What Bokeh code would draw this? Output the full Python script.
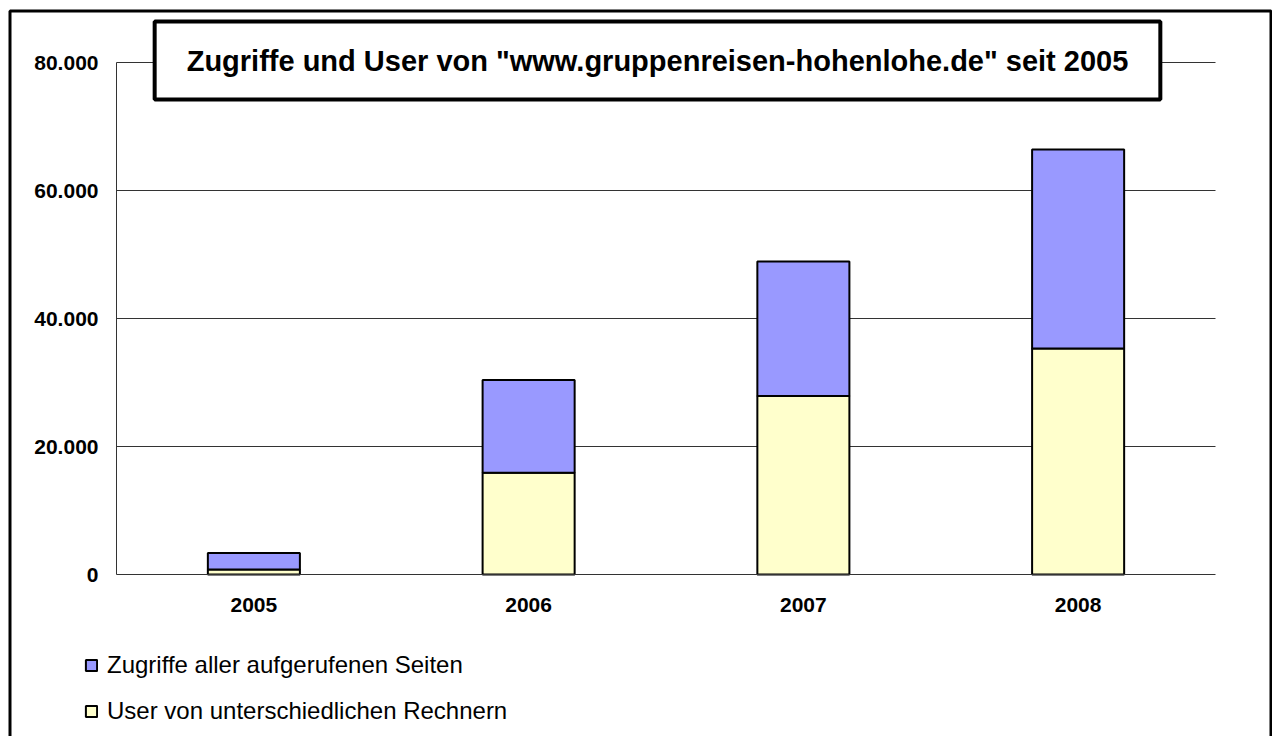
from bokeh.plotting import figure
from bokeh.models import (ColumnDataSource, Range1d, FixedTicker,
                          CustomJSTickFormatter, Label, Legend, LegendItem, BoxAnnotation)
from bokeh.embed import file_html
from bokeh.resources import INLINE

# ---- data ----
years = ["2005", "2006", "2007", "2008"]
users = [800, 15900, 27900, 35300]          # User von unterschiedlichen Rechnern
zugriffe = [2550, 14500, 21000, 31100]      # Zugriffe aller aufgerufenen Seiten (stacked segment)
y_ticks = [0, 20000, 40000, 60000, 80000]
title_text = 'Zugriffe und User von "www.gruppenreisen-hohenlohe.de" seit 2005'
label_users = "User von unterschiedlichen Rechnern"
label_zugriffe = "Zugriffe aller aufgerufenen Seiten"

YELLOW = "#FFFFCC"
BLUE = "#9999FF"
FONT = "Liberation Sans"

# ---- layout constants (pixels) ----
W, H = 1272, 736
AX_LEFT, AX_RIGHT = 116, 1215      # plot area horizontally
AX_TOP, AX_BOTTOM = 62, 574        # y of top value / zero line
Y_MAX = y_ticks[-1]

n = len(years)
xs = list(range(n))
cat_px = (AX_RIGHT - AX_LEFT) / n
x_start = -0.5 - AX_LEFT / cat_px
x_end = x_start + W / cat_px
px_per_unit = (AX_BOTTOM - AX_TOP) / Y_MAX
y_start = -(H - AX_BOTTOM) / px_per_unit
y_end = Y_MAX + AX_TOP / px_per_unit

src = ColumnDataSource(dict(x=xs, year=years, users=users, zugriffe=zugriffe))

p = figure(x_range=Range1d(x_start, x_end), y_range=Range1d(y_start, y_end),
           width=W, height=H, output_backend="svg", toolbar_location=None,
           min_border=0, min_border_left=0, min_border_right=0,
           min_border_top=0, min_border_bottom=0)
p.title.visible = False
p.outline_line_color = None
p.background_fill_color = "white"
p.border_fill_color = "white"
p.grid.visible = False

# horizontal gridlines over the plot area
grid_y = [t for t in y_ticks if t > 0]
p.segment(x0=[xs[0] - 0.5] * len(grid_y), x1=[xs[-1] + 0.5] * len(grid_y),
          y0=grid_y, y1=grid_y, line_color="#333333", line_width=1)

bars = p.vbar_stack(["users", "zugriffe"], x="x", width=0.335, source=src,
                    fill_color=[YELLOW, BLUE], line_color="black", line_width=2)

# axes at fixed positions
xa, ya = p.xaxis[0], p.yaxis[0]
xa.fixed_location = 0
xa.bounds = (xs[0] - 0.5, xs[-1] + 0.5)
xa.ticker = FixedTicker(ticks=xs)
xa.formatter = CustomJSTickFormatter(args=dict(labels=years),
                                     code="const i = Math.round(tick); return (i >= 0 && i < labels.length) ? labels[i] : '';")
ya.fixed_location = xs[0] - 0.5
ya.bounds = (0, Y_MAX)
ya.ticker = FixedTicker(ticks=y_ticks)
ya.formatter = CustomJSTickFormatter(
    code="return tick.toFixed(0).replace(/\\B(?=(\\d{3})+(?!\\d))/g, '.');")
for ax in (xa, ya):
    ax.axis_line_color = "#333333"
    ax.axis_line_width = 1
    ax.major_tick_in = 0
    ax.major_tick_out = 0
    ax.minor_tick_in = 0
    ax.minor_tick_out = 0
    ax.major_label_text_font = FONT
    ax.major_label_text_font_style = "bold"
    ax.major_label_text_font_size = "21px"
    ax.major_label_text_color = "black"
ya.major_label_standoff = 18
xa.major_label_standoff = 23

# legend (bottom left, below the axis)
legend = Legend(items=[LegendItem(label=label_zugriffe, renderers=[bars[1]]),
                       LegendItem(label=label_users, renderers=[bars[0]])],
                location=(84, 11.5), orientation="vertical",
                glyph_width=14, glyph_height=14, label_height=27, spacing=18,
                label_standoff=9, padding=0, margin=0,
                label_text_font=FONT, label_text_font_size="24px", label_text_color="black",
                border_line_alpha=0, background_fill_alpha=0)
p.add_layout(legend)

# title box
title = Label(x=657, y=H - 60, x_units="screen", y_units="screen", text=title_text,
              text_align="center", text_baseline="middle",
              text_font=FONT, text_font_style="bold", text_font_size="29px",
              text_color="black",
              background_fill_color="white", border_line_color="black",
              border_line_width=4, padding=(32, 23))
p.add_layout(title)

# outer chart border (bottom edge lies below the visible page, as in the reference)
border = BoxAnnotation(left=9.5, right=W - 1.5, top=H - 10.5, bottom=-20,
                       left_units="screen", right_units="screen",
                       top_units="screen", bottom_units="screen",
                       fill_alpha=0, line_color="black", line_alpha=1.0, line_width=3)
p.add_layout(border)

open("out.html", "w").write(file_html(p, INLINE))
